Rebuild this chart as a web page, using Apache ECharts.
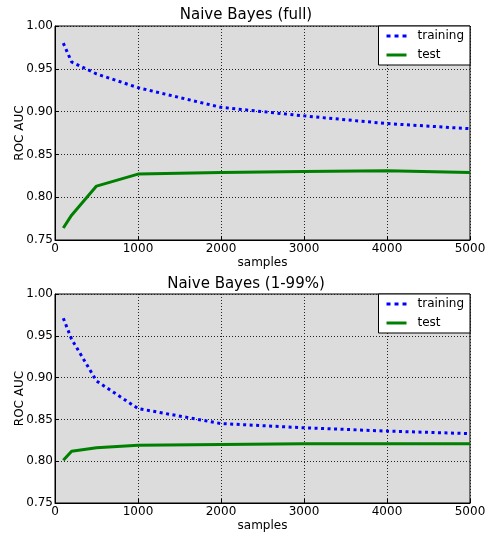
<!DOCTYPE html>
<html>
<head>
<meta charset="utf-8">
<script src="https://cdn.jsdelivr.net/npm/echarts@6/dist/echarts.min.js"></script>
<style>
  html, body { margin: 0; padding: 0; background: #fff; }
  #main { width: 492px; height: 533px; }
</style>
</head>
<body>
<div id="main"></div>
<script>
// 数据：两张图共用同一组样本数
var samples = [100, 200, 500, 1000, 2000, 3000, 4000, 5000];
var fullTrain = [0.980, 0.958, 0.944, 0.928, 0.905, 0.895, 0.886, 0.880];
var fullTest = [0.764, 0.779, 0.813, 0.827, 0.829, 0.830, 0.831, 0.829];
var clipTrain = [0.971, 0.946, 0.896, 0.863, 0.845, 0.840, 0.836, 0.833];
var clipTest = [0.801, 0.812, 0.816, 0.819, 0.820, 0.821, 0.821, 0.821];
var titles = ['Naive Bayes (full)', 'Naive Bayes (1-99%)'];

var font = 'DejaVu Sans';
var myChart = echarts.init(document.getElementById('main'));

function pairs(ys) {
    return samples.map(function (x, i) { return [x, ys[i]]; });
}

function xAxisOf(idx) {
    return {
        type: 'value', gridIndex: idx, min: 0, max: 5000, interval: 1000,
        name: 'samples', nameLocation: 'middle', nameGap: 17,
        nameTextStyle: { color: '#000', fontFamily: font, fontSize: 12 },
        axisLine: { show: true, lineStyle: { color: '#000' } },
        axisTick: { inside: true, length: 4, lineStyle: { color: '#000' } },
        axisLabel: {
            color: '#000', fontFamily: font, fontSize: 12, margin: 3,
            formatter: function (v) { return String(v); }
        },
        splitLine: { show: true, lineStyle: { color: '#222', type: [1, 2], width: 1 } }
    };
}

function yAxisOf(idx) {
    return {
        type: 'value', gridIndex: idx, min: 0.75, max: 1.0, interval: 0.05,
        name: 'ROC AUC', nameLocation: 'middle', nameGap: 29, nameRotate: 90,
        nameMoveOverlap: false,
        nameTextStyle: { color: '#000', fontFamily: font, fontSize: 12 },
        axisLine: { show: true, lineStyle: { color: '#000' } },
        axisTick: { inside: true, length: 4, lineStyle: { color: '#000' } },
        axisLabel: {
            color: '#000', fontFamily: font, fontSize: 12, margin: 2,
            formatter: function (v) { return v.toFixed(2); }
        },
        splitLine: { show: true, lineStyle: { color: '#222', type: [1, 2], width: 1 } }
    };
}

// 图例图标：蓝色点线、绿色实线
var dotIcon = 'path://M0,0h4v3h-4z M8,0h4v3h-4z M16,0h4v3h-4z';

function legendOf(top) {
    return {
        data: [
            { name: 'training', icon: dotIcon },
            { name: 'test', icon: 'rect' }
        ],
        orient: 'vertical',
        right: 22, top: top,
        backgroundColor: '#fff',
        borderColor: '#000', borderWidth: 1, borderRadius: 0,
        padding: [3, 6, 3, 8],
        itemGap: 5, itemWidth: 20, itemHeight: 3,
        textStyle: { color: '#000', fontFamily: font, fontSize: 12, padding: [0, 0, 0, 6], lineHeight: 14 }
    };
}

var option = {
    animation: false,
    title: [
        { text: titles[0], left: 'center', top: 3, textStyle: { fontFamily: font, fontSize: 15, fontWeight: 'normal', color: '#000' } },
        { text: titles[1], left: 'center', top: 272, textStyle: { fontFamily: font, fontSize: 15, fontWeight: 'normal', color: '#000' } }
    ],
    grid: [
        { left: 55, right: 22, top: 26, height: 214, show: true, backgroundColor: '#dcdcdc', borderColor: '#000', borderWidth: 1 },
        { left: 55, right: 22, top: 294, height: 214, show: true, backgroundColor: '#dcdcdc', borderColor: '#000', borderWidth: 1 }
    ],
    xAxis: [xAxisOf(0), xAxisOf(1)],
    yAxis: [yAxisOf(0), yAxisOf(1)],
    legend: [legendOf(26), legendOf(294)],
    series: [
        { name: 'training', type: 'line', xAxisIndex: 0, yAxisIndex: 0, data: pairs(fullTrain), symbol: 'none', color: '#0000ff',
          lineStyle: { color: '#0000ff', width: 3, type: [3, 3.5], cap: 'butt' } },
        { name: 'test', type: 'line', xAxisIndex: 0, yAxisIndex: 0, data: pairs(fullTest), symbol: 'none', color: '#008000',
          lineStyle: { color: '#008000', width: 3 } },
        { name: 'training', type: 'line', xAxisIndex: 1, yAxisIndex: 1, data: pairs(clipTrain), symbol: 'none', color: '#0000ff',
          lineStyle: { color: '#0000ff', width: 3, type: [3, 3.5], cap: 'butt' } },
        { name: 'test', type: 'line', xAxisIndex: 1, yAxisIndex: 1, data: pairs(clipTest), symbol: 'none', color: '#008000',
          lineStyle: { color: '#008000', width: 3 } }
    ]
};

myChart.setOption(option);
</script>
</body>
</html>
